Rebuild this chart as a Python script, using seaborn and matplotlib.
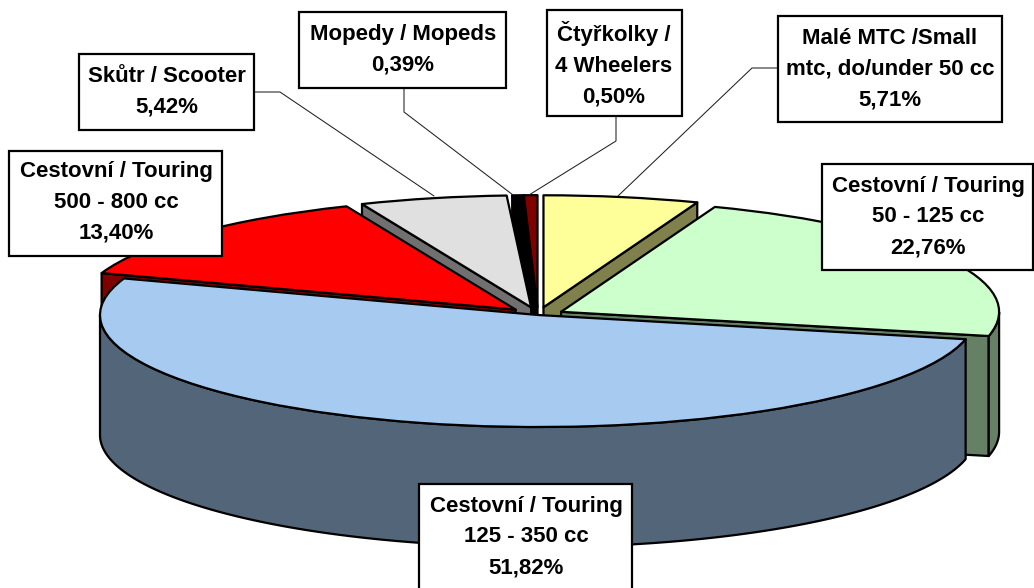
import numpy as np
import matplotlib
matplotlib.use("Agg")
import matplotlib.pyplot as plt
from matplotlib.patches import Polygon, Rectangle
import seaborn as sns

# ---- data -------------------------------------------------------------
names = ["Malé MTC /Small\nmtc, do/under 50 cc", "Cestovní / Touring\n50 - 125 cc",
         "Cestovní / Touring\n125 - 350 cc", "Cestovní / Touring\n500 - 800 cc",
         "Skůtr / Scooter", "Mopedy / Mopeds", "Čtyřkolky /\n4 Wheelers"]
shares = [5.71, 22.76, 51.82, 13.40, 5.42, 0.39, 0.50]

# ---- styles ------------------------------------------------------------
top_colors = ["#FFFF99", "#CCFFCC", "#A6CAF0", "#FF0000", "#E0E0E0", "#000000", "#800000"]
wall_colors = ["#80804D", "#668066", "#536578", "#800000", "#707070", "#000000", "#400000"]
explode = [0.07, 0.06, 0.0, 0.07, 0.07, 0.07, 0.07]
draw_order = [0, 6, 5, 4, 3, 1, 2]   # back to front

W, H = 1034, 588
CX, CY, RX, RY, DEPTH = 538, 315, 438, 112, 120

# label boxes in pixels: left, top, right, bottom, text centre x, text centre y
boxes = [(778, 16, 1002, 122, 890, 69), (822, 164, 1033, 270, 928, 217),
         (419, 484, 632, 600, 526, 537), (9, 151, 222, 256, 116, 202),
         (79, 54, 254, 130, 167, 92), (299, 12, 506, 88, 403, 50),
         (547, 10, 682, 116, 614, 64)]
leaders = [[(778, 68), (752, 68), (618, 196)], None, None, None,
           [(254, 92), (280, 92), (434, 196)],
           [(404, 88), (404, 112), (513, 195)],
           [(616, 116), (616, 141), (529, 195)]]

sns.set_theme(style="white")
plt.rcParams["font.family"] = ["Liberation Sans", "DejaVu Sans"]

fig = plt.figure(figsize=(W / 100, H / 100), dpi=100, facecolor="white")
ax = fig.add_axes([0, 0, 1, 1])
LW = 1.6
wedges, _ = ax.pie(shares, startangle=90, counterclock=False, explode=explode,
                   colors=sns.color_palette(top_colors), radius=1.0,
                   wedgeprops=dict(edgecolor="black", linewidth=LW, joinstyle="round"))
ax.set_aspect("auto")
ax.set_xlim((0 - CX) / RX, (W - CX) / RX)
ax.set_ylim((CY - H) / RY, CY / RY)
ax.axis("off")
d = DEPTH / RY


def add_side(points, color, z):
    ax.add_patch(Polygon(points, closed=True, facecolor=color, edgecolor="black",
                         linewidth=LW, joinstyle="round", zorder=z))


for rank, i in enumerate(draw_order):
    w = wedges[i]
    cx, cy = w.center
    base = 10 + rank * 3
    # radial cut faces: only those turned towards the viewer
    faces = []
    if np.cos(np.radians(w.theta1)) > 1e-6:
        faces.append(w.theta1)
    if np.cos(np.radians(w.theta2)) < -1e-6:
        faces.append(w.theta2)
    for ang in faces:
        a = np.radians(ang)
        rim = (cx + np.cos(a), cy + np.sin(a))
        add_side([(cx, cy), rim, (rim[0], rim[1] - d), (cx, cy - d)], wall_colors[i], base)
    # outer wall: only the part of the rim that faces the viewer
    t_all = np.linspace(w.theta1, w.theta2, 400)
    t = np.radians(t_all[np.sin(np.radians(t_all)) <= 0])
    if t.size > 1:
        xs, ys = cx + np.cos(t), cy + np.sin(t)
        add_side(list(zip(xs, ys)) + list(zip(xs[::-1], ys[::-1] - d)), wall_colors[i], base + 1)
    w.set_zorder(base + 2)

# ---- labels in pixel coordinates ---------------------------------------
ov = fig.add_axes([0, 0, 1, 1], facecolor="none")
ov.set_xlim(0, W)
ov.set_ylim(H, 0)
ov.axis("off")
for name, share, box, lead in zip(names, shares, boxes, leaders):
    l, t, r, b, tx, ty = box
    if lead:
        ov.plot(*zip(*lead), color="#202020", lw=0.75, zorder=1, solid_joinstyle="miter")
    ov.add_patch(Rectangle((l, t), r - l, b - t, facecolor="white", edgecolor="black",
                           linewidth=LW, zorder=2))
    label = name + "\n" + f"{share:.2f}".replace(".", ",") + "%"
    ov.text(tx, ty, label, ha="center", va="center", fontsize=16, fontweight="bold",
            color="black", linespacing=1.6, zorder=3)

fig.savefig("out.png", dpi=100)
